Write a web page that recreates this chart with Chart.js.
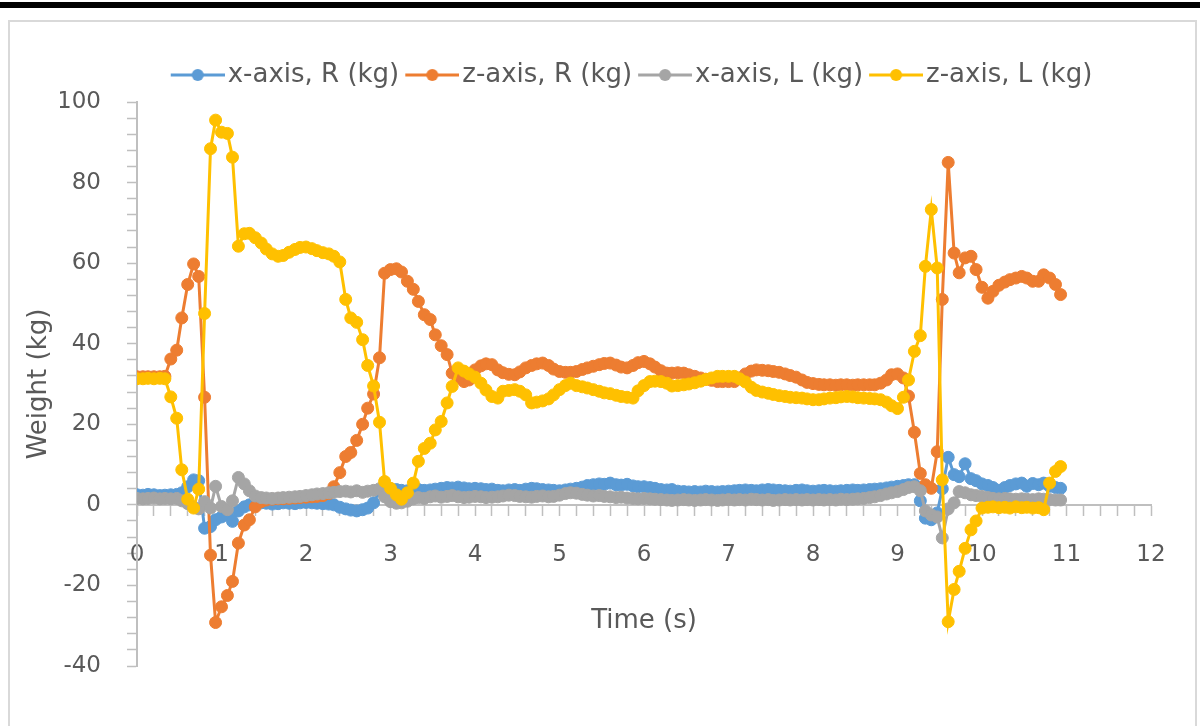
<!DOCTYPE html>
<html>
<head>
<meta charset="utf-8">
<title>Weight (kg) vs Time (s)</title>
<script src="https://cdn.jsdelivr.net/npm/chart.js@4.4.0/dist/chart.umd.min.js"></script>
<style>
  html, body { margin: 0; padding: 0; background: #fff; }
  #wrap { position: relative; width: 1200px; height: 726px; overflow: hidden; }
  #topbar { position: absolute; left: 0; top: 2px; width: 1200px; height: 6px; background: #000; }
  #frame { position: absolute; left: 8px; top: 20px; width: 1189px; height: 720px; border: 2px solid #d9d9d9; box-sizing: border-box; }
  #myChart { position: absolute; left: 0; top: 0; }
</style>
</head>
<body>
<div id="wrap">
  <div id="topbar"></div>
  <div id="frame"></div>
  <canvas id="myChart" width="1200" height="726"></canvas>
</div>
<script>
// Temps (s), une ligne par seconde
const time = [
  0, 0.07, 0.13, 0.2, 0.27, 0.33, 0.4, 0.47, 0.53, 0.6, 0.67, 0.73, 0.8, 0.87, 0.93,
  1, 1.07, 1.13, 1.2, 1.27, 1.33, 1.4, 1.47, 1.53, 1.6, 1.67, 1.73, 1.8, 1.87, 1.93,
  2, 2.07, 2.13, 2.2, 2.27, 2.33, 2.4, 2.47, 2.53, 2.6, 2.67, 2.73, 2.8, 2.87, 2.93,
  3, 3.07, 3.13, 3.2, 3.27, 3.33, 3.4, 3.47, 3.53, 3.6, 3.67, 3.73, 3.8, 3.87, 3.93,
  4, 4.07, 4.13, 4.2, 4.27, 4.33, 4.4, 4.47, 4.53, 4.6, 4.67, 4.73, 4.8, 4.87, 4.93,
  5, 5.07, 5.13, 5.2, 5.27, 5.33, 5.4, 5.47, 5.53, 5.6, 5.67, 5.73, 5.8, 5.87, 5.93,
  6, 6.07, 6.13, 6.2, 6.27, 6.33, 6.4, 6.47, 6.53, 6.6, 6.67, 6.73, 6.8, 6.87, 6.93,
  7, 7.07, 7.13, 7.2, 7.27, 7.33, 7.4, 7.47, 7.53, 7.6, 7.67, 7.73, 7.8, 7.87, 7.93,
  8, 8.07, 8.13, 8.2, 8.27, 8.33, 8.4, 8.47, 8.53, 8.6, 8.67, 8.73, 8.8, 8.87, 8.93,
  9, 9.07, 9.13, 9.2, 9.27, 9.33, 9.4, 9.47, 9.53, 9.6, 9.67, 9.73, 9.8, 9.87, 9.93,
  10, 10.07, 10.13, 10.2, 10.27, 10.33, 10.4, 10.47, 10.53, 10.6, 10.67, 10.73, 10.8, 10.87, 10.93
];

// x-axis, R (kg)
const xAxisR = [
  2.5, 2.4, 2.6, 2.5, 2.3, 2.4, 2.5, 2.6, 3, 4.5, 6.2, 6, -5.8, -5.4, -3.7,
  -3, -2.5, -4.1, -1.5, -0.5, 0, 0.3, 0.5, 0.4, 0.2, 0.3, 0.5, 0.4, 0.3, 0.5,
  0.6, 0.5, 0.4, 0.3, 0.2, 0, -0.6, -1, -1.3, -1.5, -1.2, -0.8, 0.5, 3.5, 4,
  4, 3.8, 3.6, 3.5, 3.7, 3.8, 3.6, 3.7, 3.9, 4.1, 4.3, 4.2, 4.4, 4.2, 4,
  4.1, 4, 3.8, 3.9, 3.6, 3.5, 3.7, 3.8, 3.6, 3.9, 4.1, 4, 3.8, 3.7, 3.6,
  3.5, 3.7, 3.9, 4.1, 4.4, 4.8, 5, 5.2, 5.1, 5.4, 5, 4.9, 5.1, 4.7, 4.5,
  4.5, 4.3, 4.1, 3.8, 3.7, 3.8, 3.4, 3.3, 3.2, 3.3, 3.2, 3.4, 3.3, 3.2, 3.3,
  3.4, 3.5, 3.6, 3.7, 3.6, 3.5, 3.7, 3.8, 3.7, 3.6, 3.5, 3.4, 3.6, 3.7, 3.5,
  3.4, 3.5, 3.6, 3.5, 3.4, 3.5, 3.6, 3.7, 3.6, 3.7, 3.8, 3.9, 4, 4.2, 4.4,
  4.6, 4.8, 5, 5, 1, -3.3, -3.7, -2, 4, 11.8, 7.5, 7, 10.2, 6.5, 6,
  5.2, 4.8, 4.3, 3.6, 4.3, 4.8, 5.2, 5.4, 4.6, 5.3, 5, 5.4, 4.6, 4.3, 4.1
];

// z-axis, R (kg)
const zAxisR = [
  31.8, 31.8, 31.8, 31.8, 31.8, 31.9, 36.2, 38.4, 46.4, 54.7, 59.8, 56.7, 26.7, -12.5, -29.2,
  -25.3, -22.5, -19, -9.5, -5, -3.7, -0.5, 0.8, 1.2, 1.4, 1.5, 1.5, 1.6, 1.7, 1.8,
  1.9, 2, 2.1, 2.3, 2.8, 4.5, 8, 12, 13, 16, 20, 24, 27.5, 36.5, 57.5,
  58.4, 58.6, 57.8, 55.5, 53.5, 50.5, 47.2, 46, 42.2, 39.5, 37.3, 32.7, 31.5, 30.6, 31,
  33.5, 34.5, 35, 34.8, 33.5, 32.8, 32.4, 32.3, 33, 34, 34.6, 35, 35.2, 34.6, 33.7,
  33.1, 32.9, 32.9, 33.1, 33.6, 34, 34.4, 34.8, 35.1, 35.2, 34.7, 34.2, 34, 34.6, 35.3,
  35.6, 35, 34.2, 33.3, 32.7, 32.7, 32.8, 32.7, 32.3, 31.9, 31.5, 31.2, 30.9, 30.6, 30.6,
  30.6, 30.6, 31.5, 32.5, 33.2, 33.5, 33.4, 33.3, 33.1, 32.9, 32.5, 32.1, 31.7, 31, 30.4,
  30.1, 29.9, 29.8, 29.8, 29.7, 29.8, 29.8, 29.7, 29.8, 29.8, 29.8, 29.8, 30.2, 31, 32.3,
  32.5, 31.5, 27, 18, 7.8, 5, 4.1, 13.2, 51, 85, 62.5, 57.6, 61.3, 61.7, 58.4,
  54, 51.3, 53, 54.5, 55.3, 55.9, 56.3, 56.7, 56.3, 55.5, 55.5, 57.1, 56.3, 54.7, 52.2
];

// x-axis, L (kg)
const xAxisL = [
  1.6, 1.5, 1.6, 1.7, 1.5, 1.6, 1.5, 1.6, 1, 0.3, -0.5, -1, 0.8, -0.8, 4.6,
  -0.4, -1.2, 1, 6.8, 5.2, 3.5, 2.2, 1.8, 1.7, 1.6, 1.7, 1.8, 1.9, 2, 2.1,
  2.3, 2.5, 2.7, 2.8, 3, 3.1, 3.3, 3.4, 3.2, 3.5, 3.1, 3.4, 3.6, 4, 2,
  0.8, 0.4, 0.5, 0.9, 1.5, 1.8, 1.6, 2, 2.2, 1.9, 2.1, 2.3, 2, 1.8, 1.9,
  2.1, 2, 1.8, 1.9, 2, 2.2, 2.4, 2.3, 2.1, 2, 1.9, 2.1, 2.2, 2, 2.1,
  2.4, 2.8, 3, 2.9, 2.6, 2.4, 2.2, 2.3, 2.1, 2, 1.8, 1.9, 1.7, 1.6, 1.5,
  1.6, 1.5, 1.4, 1.3, 1.2, 1.1, 1.2, 1.3, 1.2, 1.1, 1.2, 1.3, 1.2, 1.1, 1.2,
  1.3, 1.2, 1.3, 1.2, 1.4, 1.3, 1.2, 1.3, 1.1, 1.2, 1.3, 1.2, 1.3, 1.2, 1.3,
  1.2, 1.3, 1.2, 1.3, 1.2, 1.4, 1.3, 1.4, 1.5, 1.6, 1.8, 2, 2.3, 2.7, 3,
  3.3, 3.8, 4.3, 4.5, 3.5, -1.5, -2.5, -3, -8.2, -1, 0.5, 3.3, 3, 2.5, 2.3,
  2.1, 1.8, 1.6, 1.5, 1.6, 1.5, 1.4, 1.5, 1.4, 1.3, 1.5, 1.4, 1.3, 1.2, 1.2
];

// z-axis, L (kg)
const zAxisL = [
  31.3, 31.3, 31.4, 31.3, 31.4, 31.3, 26.8, 21.5, 8.7, 1.4, -0.8, 3.9, 47.5, 88.4, 95.5,
  92.5, 92.2, 86.3, 64.2, 67.3, 67.4, 66.3, 65, 63.5, 62.3, 61.7, 61.9, 62.7, 63.4, 63.9,
  64, 63.6, 63.1, 62.6, 62.3, 61.7, 60.3, 51, 46.4, 45.3, 41, 34.6, 29.5, 20.5, 5.8,
  4.1, 2.5, 1.4, 3, 5.4, 10.8, 14, 15.3, 18.6, 20.7, 25.3, 29.4, 34, 33.2, 32.5,
  31.7, 30.2, 28.5, 26.9, 26.5, 28.2, 28.4, 28.6, 28.2, 27.3, 25.3, 25.5, 25.8, 26.3, 27.3,
  28.6, 29.6, 30.2, 29.6, 29.3, 29, 28.6, 28.2, 27.8, 27.6, 27.2, 26.9, 26.7, 26.5, 28.3,
  29.6, 30.6, 30.7, 30.6, 30.2, 29.5, 29.6, 29.8, 30, 30.3, 30.7, 31.1, 31.5, 31.9, 31.9,
  31.9, 31.9, 31.3, 30.5, 29.2, 28.4, 28, 27.7, 27.4, 27.1, 26.9, 26.7, 26.6, 26.5, 26.3,
  26.1, 26.1, 26.3, 26.5, 26.6, 26.8, 26.9, 26.8, 26.6, 26.5, 26.4, 26.3, 26.1, 25.5, 24.6,
  23.9, 26.7, 31, 38.1, 42, 59.2, 73.3, 58.8, 6.2, -29, -21, -16.5, -10.8, -6.2, -4,
  -0.8, -0.6, -0.5, -0.7, -0.6, -0.8, -0.5, -0.7, -0.6, -0.8, -0.7, -1.2, 5.4, 8.3, 9.5
];

const seriesNames = ['x-axis, R (kg)', 'z-axis, R (kg)', 'x-axis, L (kg)', 'z-axis, L (kg)'];
const seriesColors = ['#5b9bd5', '#ed7d31', '#a5a5a5', '#ffc000'];

// Étiquettes des graduations principales
const xTickLabels = [0, 1, 2, 3, 4, 5, 6, 7, 8, 9, 10, 11, 12];
const yTickLabels = [-40, -20, 0, 20, 40, 60, 80, 100];

const fontFamily = "'DejaVu Sans', sans-serif";
const textColor = '#595959';
const axisColor = '#bfbfbf';

// Icône de légende : trait + rond (un peu décalée à droite dans sa boîte)
function legendIcon(color) {
  const c = document.createElement('canvas');
  c.width = 62;
  c.height = 14;
  const g = c.getContext('2d');
  g.strokeStyle = color;
  g.lineWidth = 3;
  g.beginPath();
  g.moveTo(8, 7);
  g.lineTo(62, 7);
  g.stroke();
  g.fillStyle = color;
  g.beginPath();
  g.arc(35, 7, 6, 0, Math.PI * 2);
  g.fill();
  return c;
}

function isMajor(list, v) {
  return list.some(t => Math.abs(t - v) < 1e-6);
}

// Décale la légende vers la droite comme dans l'original
const legendShift = {
  id: 'legendShift',
  afterLayout(chart) {
    chart.legend.left += 27;
    chart.legend.right += 27;
  }
};

const allSeries = [xAxisR, zAxisR, xAxisL, zAxisL];
const drawOrder = [4, 3, 2, 1]; // la dernière série passe au-dessus

const datasets = allSeries.map((vals, i) => ({
  label: seriesNames[i],
  data: time.map((t, k) => ({ x: t, y: vals[k] })),
  borderColor: seriesColors[i],
  backgroundColor: seriesColors[i],
  pointBackgroundColor: seriesColors[i],
  pointBorderColor: seriesColors[i],
  borderWidth: 3,
  pointRadius: 6,
  pointBorderWidth: 1,
  tension: 0,
  order: drawOrder[i]
}));

const ctx = document.getElementById('myChart').getContext('2d');

const myChart = new Chart(ctx, {
  type: 'line',
  data: { datasets: datasets },
  plugins: [legendShift],
  options: {
    responsive: false,
    animation: false,
    devicePixelRatio: 1,
    layout: { padding: { left: 60, top: 54, right: 49, bottom: 60 } },
    plugins: {
      legend: {
        position: 'top',
        labels: {
          usePointStyle: true,
          pointStyleWidth: 42,
          padding: 8,
          color: textColor,
          font: { family: fontFamily, size: 26 },
          generateLabels: chart => Chart.defaults.plugins.legend.labels.generateLabels(chart)
            .sort((a, b) => a.datasetIndex - b.datasetIndex)
            .map(item => Object.assign(item, { pointStyle: legendIcon(seriesColors[item.datasetIndex]) }))
        }
      },
      tooltip: { enabled: false }
    },
    scales: {
      x: {
        type: 'linear',
        position: { y: 0 },
        min: 0,
        max: 12,
        afterFit: scale => { scale.height = 60; },
        grid: { drawOnChartArea: false, drawTicks: true, tickLength: 10, color: axisColor, tickWidth: 1.5 },
        border: { color: axisColor, width: 2 },
        ticks: {
          stepSize: 0.2,
          autoSkip: false,
          maxRotation: 0,
          padding: 26,
          color: textColor,
          font: { family: fontFamily, size: 23 },
          callback: v => isMajor(xTickLabels, v) ? String(Math.round(v)) : ''
        },
        title: {
          display: true,
          text: 'Time (s)',
          color: textColor,
          font: { family: fontFamily, size: 26 },
          padding: { top: 0, bottom: -72 }
        }
      },
      y: {
        type: 'linear',
        position: 'left',
        min: -40,
        max: 100,
        afterFit: scale => { scale.width = 77; },
        grid: { drawOnChartArea: false, drawTicks: true, tickLength: 10, color: axisColor, tickWidth: 1.5 },
        border: { color: axisColor, width: 2 },
        ticks: {
          stepSize: 4,
          autoSkip: false,
          padding: 26,
          color: textColor,
          font: { family: fontFamily, size: 23 },
          callback: v => isMajor(yTickLabels, v) ? String(Math.round(v)) : ''
        },
        title: {
          display: true,
          text: 'Weight (kg)',
          color: textColor,
          font: { family: fontFamily, size: 26 },
          padding: { top: -36, bottom: 0 }
        }
      }
    }
  }
});

// Un peu plus d'espace sous la légende
const legendFit = myChart.legend.fit;
myChart.legend.fit = function () {
  legendFit.call(this);
  this.height += 4;
};
myChart.update();
</script>
</body>
</html>
